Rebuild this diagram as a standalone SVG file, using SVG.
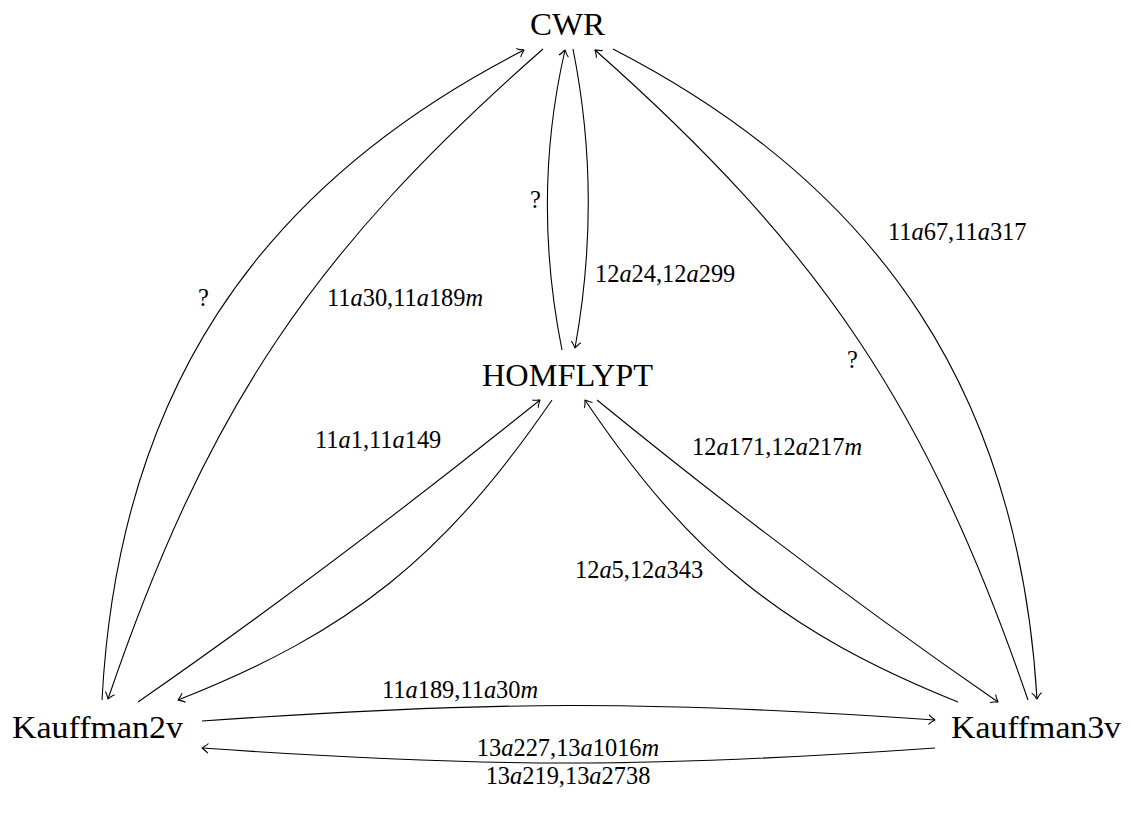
<svg xmlns="http://www.w3.org/2000/svg" width="1131" height="814" viewBox="0 0 1131 814">
<style>
.node{font-family:"Liberation Serif","Times New Roman",serif;font-size:31.5px;fill:#000}
.lbl{font-family:"Liberation Serif","Times New Roman",serif;font-size:24.4px;fill:#000}
.i{font-style:italic}
.e{fill:none;stroke:#000;stroke-width:1.1;marker-end:url(#to)}
</style>
<defs>
<marker id="to" markerUnits="userSpaceOnUse" viewBox="-8 -7 10 14" refX="0" refY="0" markerWidth="10" markerHeight="14" orient="auto" overflow="visible">
<path d="M -6,5 C -5.5,3.1 0,0.3 0,0 C 0,-0.3 -5.5,-3.1 -6,-5" fill="none" stroke="#000" stroke-width="1.1"/>
</marker>
</defs>
<rect width="1131" height="814" fill="#fff"/>
<g id="connectors">
<g id="e-k2-cwr"><path class="e" d="M102,700 C118,397 254,188 524,50"/><text class="lbl" x="198" y="306">?</text></g>
<g id="e-cwr-k2"><path class="e" d="M543,49 C313,251 207,409 108,699"/><text class="lbl" x="327" y="306">11<tspan class="i">a</tspan>30,11<tspan class="i">a</tspan>189<tspan class="i">m</tspan></text></g>
<g id="e-h-cwr"><path class="e" d="M562,350 C542,250 542,150 565,50"/><text class="lbl" x="530" y="208">?</text></g>
<g id="e-cwr-h"><path class="e" d="M573,49 C593,149 593,249 575,348"/><text class="lbl" x="595" y="282">12<tspan class="i">a</tspan>24,12<tspan class="i">a</tspan>299</text></g>
<g id="e-k3-cwr"><path class="e" d="M1028,700 C928,409 822,251 595,50"/><text class="lbl" x="847" y="368">?</text></g>
<g id="e-cwr-k3"><path class="e" d="M613,49 C883,188 1019,397 1037,699"/><text class="lbl" x="888" y="240">11<tspan class="i">a</tspan>67,11<tspan class="i">a</tspan>317</text></g>
<g id="e-k2-h"><path class="e" d="M138,702 C275,607 408,506 540,400"/><text class="lbl" x="315" y="448">11<tspan class="i">a</tspan>1,11<tspan class="i">a</tspan>149</text></g>
<g id="e-h-k2"><path class="e" d="M552,400 C445,556 351,632 178,700"/><text class="lbl" x="382" y="698">11<tspan class="i">a</tspan>189,11<tspan class="i">a</tspan>30<tspan class="i">m</tspan></text></g>
<g id="e-h-k3"><path class="e" d="M597,400 C727,506 860,607 998,702"/><text class="lbl" x="692" y="455">12<tspan class="i">a</tspan>171,12<tspan class="i">a</tspan>217<tspan class="i">m</tspan></text></g>
<g id="e-k3-h"><path class="e" d="M958,702 C784,632 690,556 585,400"/><text class="lbl" x="575" y="578">12<tspan class="i">a</tspan>5,12<tspan class="i">a</tspan>343</text></g>
<g id="e-k2-k3"><path class="e" d="M202,721 C488,701 649,700 935,720"/><text class="lbl" x="568" y="756" text-anchor="middle">13<tspan class="i">a</tspan>227,13<tspan class="i">a</tspan>1016<tspan class="i">m</tspan></text></g>
<g id="e-k3-k2"><path class="e" d="M935,748 C649,768 488,768 202,748"/><text class="lbl" x="568" y="784" text-anchor="middle">13<tspan class="i">a</tspan>219,13<tspan class="i">a</tspan>2738</text></g>
</g>
<g id="n-cwr"><text class="node" x="530" y="35" textLength="75" lengthAdjust="spacingAndGlyphs">CWR</text></g>
<g id="n-homflypt"><text class="node" x="482" y="386" textLength="171" lengthAdjust="spacingAndGlyphs">HOMFLYPT</text></g>
<g id="n-k2"><text class="node" x="12" y="738" textLength="171" lengthAdjust="spacingAndGlyphs">Kauffman2v</text></g>
<g id="n-k3"><text class="node" x="951" y="738" textLength="170" lengthAdjust="spacingAndGlyphs">Kauffman3v</text></g>
</svg>
